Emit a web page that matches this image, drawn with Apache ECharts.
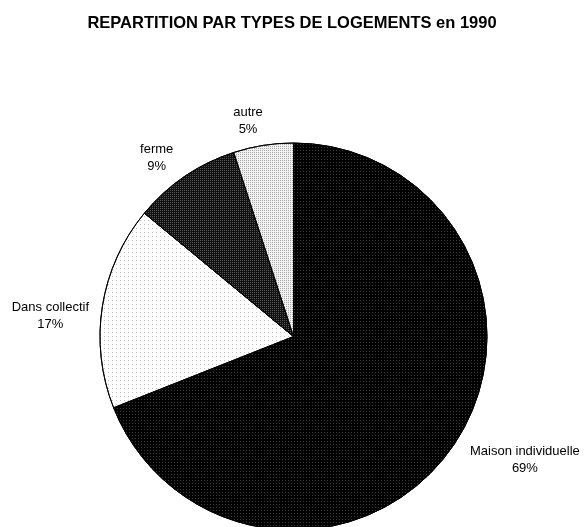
<html>
<head>
    <meta charset="utf-8">
    <title>Chart</title>
    <script src="https://cdn.jsdelivr.net/npm/echarts@6/dist/echarts.min.js"></script>
    <style>
        html, body { margin: 0; padding: 0; background: #fff; }
        #main { width: 584px; height: 527px; }
    </style>
</head>
<body>
    <div id="main"></div>
    <script type="text/javascript">
        // données
        var categories = ['Maison individuelle', 'Dans collectif', 'ferme', 'autre'];
        var values = [69, 17, 9, 5];

        // placement du camembert (px)
        var cx = 293.5, cy = 336.5, R = 193.5;
        // petits décalages des étiquettes
        var labelNudge = [[16, -2], [-2, 14], [-12, 5], [-11, 4]];

        var fills = [
            { color: '#000000', decal: { symbol: 'rect', symbolSize: 1, color: '#3a3a3a', dashArrayX: [1, 2], dashArrayY: [1, 2] } },
            { color: '#ffffff', decal: { symbol: 'rect', symbolSize: 1, color: '#c0c0c0', dashArrayX: [1, 3], dashArrayY: [1, 3] } },
            { color: '#111111', decal: { symbol: 'rect', symbolSize: 1, color: '#555555', dashArrayX: [1, 1], dashArrayY: [1, 1] } },
            { color: '#f2f2f2', decal: { symbol: 'rect', symbolSize: 1, color: '#a8a8a8', dashArrayX: [1, 1], dashArrayY: [1, 1] } }
        ];

        var total = values.reduce(function (a, b) { return a + b; }, 0);
        var midAngle = [];
        var acc = 0;
        values.forEach(function (v) {
            midAngle.push((acc + v / 2) / total * 2 * Math.PI);
            acc += v;
        });

        var myChart = echarts.init(document.getElementById('main'));

        var option = {
            animation: false,
            title: {
                text: 'REPARTITION PAR TYPES DE LOGEMENTS en 1990',
                left: 'center',
                top: 10,
                textStyle: { fontFamily: 'Liberation Sans', fontSize: 16.5, fontWeight: 'bold', color: '#000' }
            },
            series: [{
                type: 'pie',
                center: [cx, cy],
                radius: R,
                startAngle: 90,
                clockwise: true,
                itemStyle: { borderColor: '#000', borderWidth: 1 },
                label: {
                    show: true,
                    position: 'outside',
                    formatter: '{b}\n{d}%',
                    fontFamily: 'Liberation Sans',
                    fontSize: 13,
                    lineHeight: 17,
                    color: '#000',
                    align: 'center',
                    overflow: 'none',
                    edgeDistance: 0
                },
                labelLine: { show: false },
                labelLayout: function (p) {
                    var i = p.dataIndex;
                    var a = midAngle[i];
                    var s = Math.sin(a), c = Math.cos(a);
                    var d = R + 12;
                    var w = p.labelRect.width, h = p.labelRect.height;
                    return {
                        x: cx + s * d + s * w / 2 + labelNudge[i][0],
                        y: cy - c * d - c * h / 2 + labelNudge[i][1],
                        align: 'center',
                        verticalAlign: 'middle'
                    };
                },
                data: categories.map(function (name, i) {
                    return { name: name, value: values[i], itemStyle: fills[i] };
                })
            }]
        };
        myChart.setOption(option);
    </script>
</body>
</html>
